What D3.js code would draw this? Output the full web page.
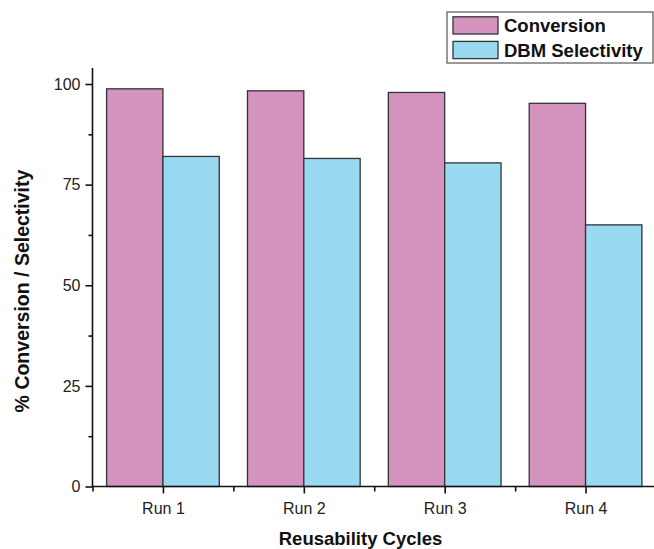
<!DOCTYPE html>
<html>
<head>
<meta charset="utf-8">
<script src="https://cdn.jsdelivr.net/npm/d3@7"></script>
<style>
  html, body { margin: 0; padding: 0; background: #fff; }
  svg { display: block; font-family: "Liberation Sans", Arial, sans-serif; }
</style>
</head>
<body>
<svg id="chart" width="654" height="549"></svg>
<script>
// Catalyst reusability: conversion and DBM selectivity per run
const runs = ["Run 1", "Run 2", "Run 3", "Run 4"];
const conversion = [98.8, 98.3, 97.9, 95.2];
const selectivity = [82.0, 81.5, 80.4, 65.0];
const seriesNames = ["Conversion", "DBM Selectivity"];
const seriesColors = ["#D492BE", "#99DAF2"];
const yTicks = [0, 25, 50, 75, 100];
const yMinorTicks = [12.5, 37.5, 62.5, 87.5];

const svg = d3.select("#chart");

const x = d3.scaleLinear().domain([0.5, 4.5]).range([92.5, 656]);
const y = d3.scaleLinear().domain([0, 104]).range([486.5, 67.9]);
const step = x(2) - x(1);
const barW = step * 0.4;

const series = [conversion, selectivity];

// Bars
series.forEach((vals, si) => {
  svg.append("g")
    .selectAll("rect")
    .data(vals)
    .join("rect")
    .attr("x", (d, i) => x(i + 1) - barW + si * barW)
    .attr("y", d => y(d))
    .attr("width", barW)
    .attr("height", d => y(0) - y(d))
    .attr("fill", seriesColors[si])
    .attr("stroke", "#333")
    .attr("stroke-width", 1.3);
});

// Y axis with major and minor ticks
const yAxis = svg.append("g").attr("transform", `translate(${x(0.5)},0)`);
yAxis.call(d3.axisLeft(y).tickValues(yTicks).tickSize(7).tickPadding(5).tickFormat(d3.format("d")));
yAxis.append("g").call(d3.axisLeft(y).tickValues(yMinorTicks).tickSize(4).tickFormat(""));
yAxis.selectAll(".domain").filter((d, i, n) => i > 0).remove();
yAxis.selectAll("path.domain").attr("d", `M0,${y(104)}V${y(0) + 1}`);
yAxis.selectAll("text").attr("font-size", 16).attr("fill", "#222").attr("font-family", "Liberation Sans, Arial, sans-serif");

// X axis with run ticks and in-between minor ticks
const xAxis = svg.append("g").attr("transform", `translate(0,${y(0)})`);
xAxis.call(d3.axisBottom(x).tickValues([1, 2, 3, 4]).tickSize(7).tickPadding(9)
  .tickFormat((d) => runs[d - 1]));
xAxis.append("g").call(d3.axisBottom(x).tickValues([0.5, 1.5, 2.5, 3.5]).tickSize(5).tickFormat(""));
xAxis.selectAll("path.domain").attr("d", `M${x(0.5)},0H${x(4.5)}`);
xAxis.selectAll("g > g > path.domain").remove();
xAxis.selectAll("text").attr("font-size", 16).attr("fill", "#222").attr("font-family", "Liberation Sans, Arial, sans-serif");

svg.selectAll(".domain, .tick line").attr("stroke", "#111").attr("stroke-width", 1.6);

// Axis titles
svg.append("text")
  .attr("x", 360.5).attr("y", 545)
  .attr("text-anchor", "middle")
  .attr("font-size", 18.5).attr("font-weight", "bold").attr("fill", "#111")
  .text("Reusability Cycles");

svg.append("text")
  .attr("transform", "translate(29,291) rotate(-90)")
  .attr("text-anchor", "middle")
  .attr("font-size", 19.5).attr("font-weight", "bold").attr("fill", "#111")
  .text("% Conversion / Selectivity");

// Legend
const legend = svg.append("g");
legend.append("rect")
  .attr("x", 447).attr("y", 12).attr("width", 206).attr("height", 51)
  .attr("fill", "#fff").attr("stroke", "#555").attr("stroke-width", 1.2);
seriesNames.forEach((name, i) => {
  legend.append("rect")
    .attr("x", 453).attr("y", 16.8 + i * 24.6).attr("width", 45).attr("height", 17.2)
    .attr("fill", seriesColors[i]).attr("stroke", "#333").attr("stroke-width", 1.3);
  legend.append("text")
    .attr("x", 504).attr("y", 32.2 + i * 24.6)
    .attr("font-size", 18.5).attr("font-weight", "bold").attr("fill", "#111")
    .text(name);
});
</script>
</body>
</html>
